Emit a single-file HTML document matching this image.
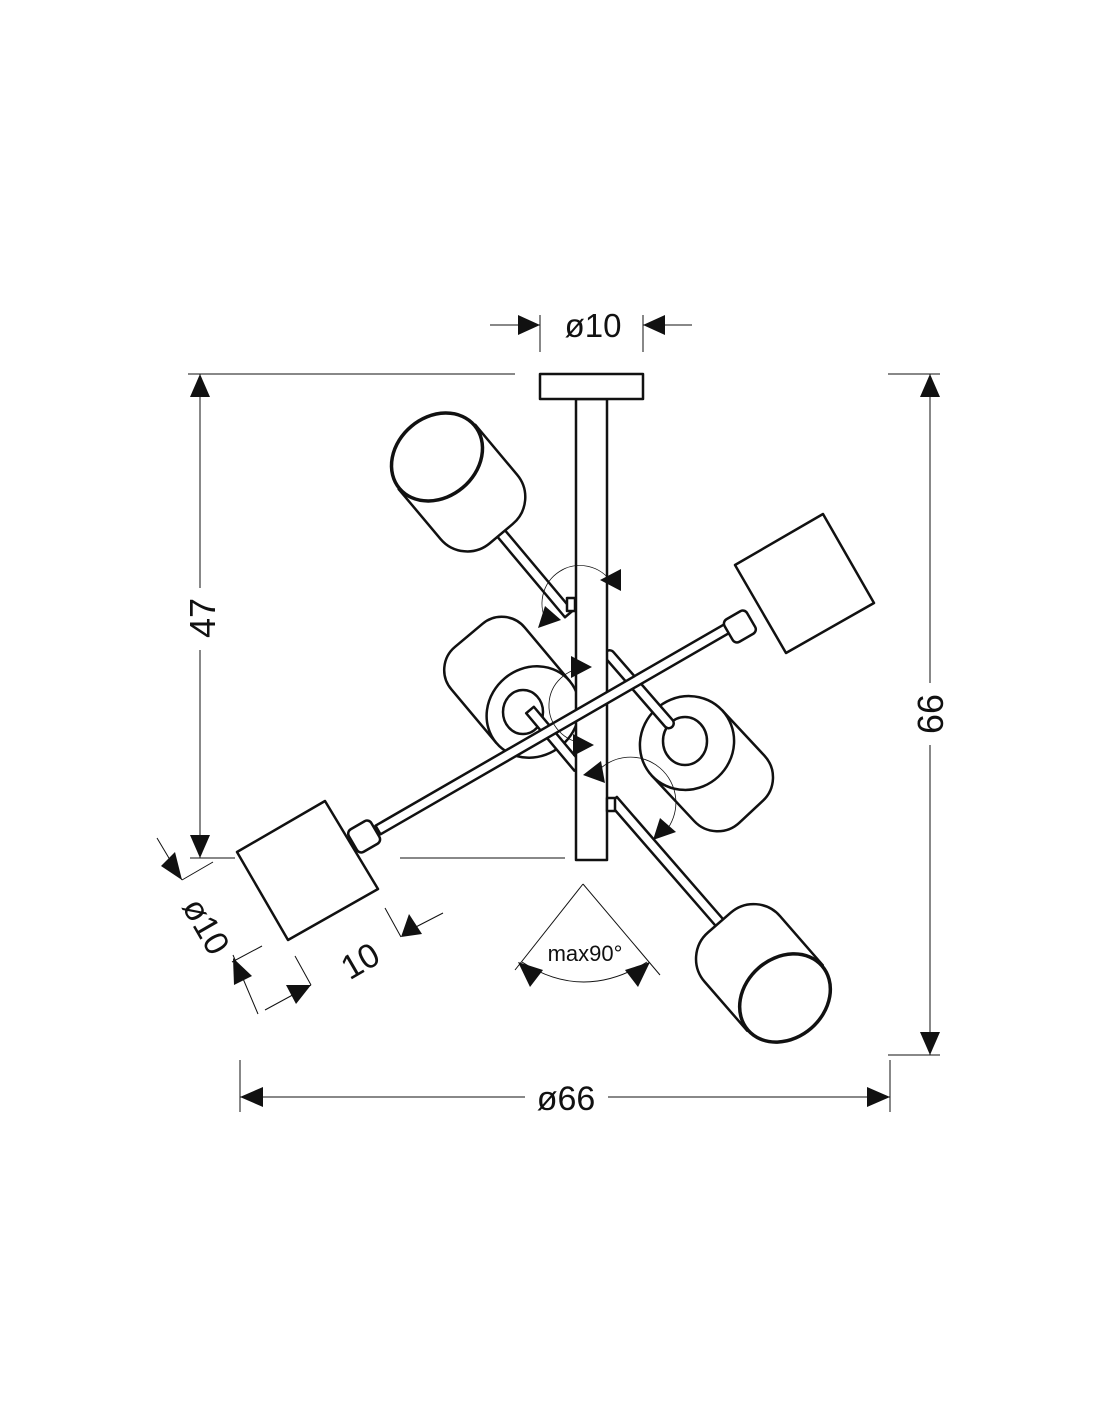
<!DOCTYPE html>
<html><head><meta charset="utf-8"><style>
html,body{margin:0;padding:0;background:#fff}
svg{display:block}
text{font-family:"Liberation Sans",Arial,sans-serif;fill:#111}
</style></head><body>
<svg width="1100" height="1422" viewBox="0 0 1100 1422" xmlns="http://www.w3.org/2000/svg">
<g fill="none" stroke="#111" stroke-width="1">
<line x1="490" y1="325" x2="540" y2="325"/><line x1="643" y1="325" x2="692" y2="325"/>
<line x1="540" y1="315" x2="540" y2="352"/><line x1="643" y1="315" x2="643" y2="352"/>
<line x1="188" y1="374" x2="515" y2="374"/>
<line x1="200" y1="374" x2="200" y2="588"/><line x1="200" y1="650" x2="200" y2="858"/>
<line x1="190" y1="858" x2="235" y2="858"/><line x1="400" y1="858" x2="565" y2="858"/>
<line x1="888" y1="374" x2="940" y2="374"/><line x1="888" y1="1055" x2="940" y2="1055"/>
<line x1="930" y1="374" x2="930" y2="683"/><line x1="930" y1="745" x2="930" y2="1055"/>
<line x1="240" y1="1060" x2="240" y2="1112"/><line x1="890" y1="1060" x2="890" y2="1112"/>
<line x1="240" y1="1097" x2="525" y2="1097"/><line x1="608" y1="1097" x2="890" y2="1097"/>
<line x1="157" y1="838" x2="182" y2="880"/><line x1="182" y1="880" x2="213" y2="862"/>
<line x1="233" y1="955" x2="258" y2="1014"/><line x1="295" y1="956" x2="311" y2="985"/>
<line x1="265" y1="1010" x2="311" y2="985"/><line x1="232" y1="962" x2="262" y2="946"/>
<line x1="385" y1="908" x2="401" y2="937"/><line x1="410" y1="930" x2="443" y2="913"/>
<line x1="583" y1="884" x2="515" y2="970"/><line x1="583" y1="884" x2="660" y2="975"/>
<path d="M522,962 Q583,1002 647,962"/>
</g>
<g fill="#fff" stroke="#111" stroke-width="2.5" stroke-linejoin="round">
<g transform="translate(533,712) rotate(230)">
<path d="M0,-48 L70,-48 A30,30 0 0 1 100,-18 L100,18 A30,30 0 0 1 70,48 L0,48 Z"/>
<ellipse cx="0" cy="0" rx="44" ry="48"/>
</g>
<ellipse cx="523" cy="712" rx="20" ry="22"/>
<g transform="translate(687,743) rotate(47)">
<path d="M0,-48 L62,-48 A32,32 0 0 1 94,-16 L94,16 A32,32 0 0 1 62,48 L0,48 Z"/>
<ellipse cx="0" cy="0" rx="46" ry="48"/>
</g>
<ellipse cx="685" cy="741" rx="22" ry="24"/>
<g transform="translate(672,727) rotate(229)"><rect x="0" y="-5" width="100" height="10" rx="5"/></g>
<g transform="translate(530,710) rotate(50)"><rect x="0" y="-5" width="75" height="10"/></g>
<rect x="576" y="399" width="31" height="461"/>
<rect x="540" y="374" width="103" height="25"/>
<g transform="translate(437,457) rotate(50)">
<rect x="95" y="-5" width="110" height="10"/>
<path d="M0,-50 L65,-50 A35,35 0 0 1 100,-15 L100,15 A35,35 0 0 1 65,50 L0,50 Z"/>
<ellipse cx="0" cy="0" rx="40" ry="49" stroke-width="3.5"/>
</g>
<rect x="567" y="598" width="8" height="13"/>
<g transform="translate(785,998) rotate(229)">
<rect x="95" y="-5" width="167" height="10"/>
<path d="M0,-50 L65,-50 A35,35 0 0 1 100,-15 L100,15 A35,35 0 0 1 65,50 L0,50 Z"/>
<ellipse cx="0" cy="0" rx="40" ry="49" stroke-width="3.5"/>
</g>
<rect x="607" y="798" width="8" height="13"/>
<g transform="translate(378,830) rotate(-30)"><rect x="0" y="-5" width="410" height="10"/></g>
<g transform="translate(739,627) rotate(-30)"><rect x="-12" y="-13" width="26" height="26" rx="5"/></g>
<polygon points="735,565 823,514 874,603 786,653"/>
<g transform="translate(365,836) rotate(-30)"><rect x="-14" y="-13" width="26" height="26" rx="5"/></g>
<polygon points="237,852 325,801 378,889 288,940"/>
</g>
<g fill="none" stroke="#111" stroke-width="0.8">
<path d="M612,583 A38,38 0 1 0 548,624"/>
<path d="M588,668 A30,30 0 1 0 585,743"/>
<path d="M596,773 A44,44 0 1 1 665,832"/>
</g>
<g fill="#111" stroke="none">
<polygon points="540,325 518,315 518,335"/><polygon points="643,325 665,315 665,335"/>
<polygon points="200,374 190,397 210,397"/><polygon points="200,858 190,835 210,835"/>
<polygon points="930,374 920,397 940,397"/><polygon points="930,1055 920,1032 940,1032"/>
<polygon points="240,1097 263,1087 263,1107"/><polygon points="890,1097 867,1087 867,1107"/>
<polygon points="182,880 161,866 175,852"/>
<polygon points="233,958 234,985 252,976"/>
<polygon points="311,985 286,985 296,1004"/>
<polygon points="401,937 409,914 422,934"/>
<polygon points="518,962 530,987 543,970"/><polygon points="650,962 638,987 625,970"/>
<polygon points="600,580 621,569 621,591"/>
<polygon points="538,628 545,606 561,620"/>
<polygon points="592,667 571,656 571,678"/>
<polygon points="594,745 573,734 573,756"/>
<polygon points="583,775 601,761 605,783"/>
<polygon points="653,840 660,818 676,832"/>
</g>
<text x="593" y="337" font-size="33" text-anchor="middle">ø10</text>
<text transform="translate(215,618) rotate(-90)" font-size="36" text-anchor="middle">47</text>
<text transform="translate(943,714) rotate(-90)" font-size="36" text-anchor="middle">66</text>
<text x="566" y="1110" font-size="34" text-anchor="middle">ø66</text>
<text transform="translate(196,932) rotate(60)" font-size="34" text-anchor="middle">ø10</text>
<text transform="translate(366,971) rotate(-30)" font-size="34" text-anchor="middle">10</text>
<text x="585" y="961" font-size="22" text-anchor="middle">max90°</text>
</svg>
</body></html>
